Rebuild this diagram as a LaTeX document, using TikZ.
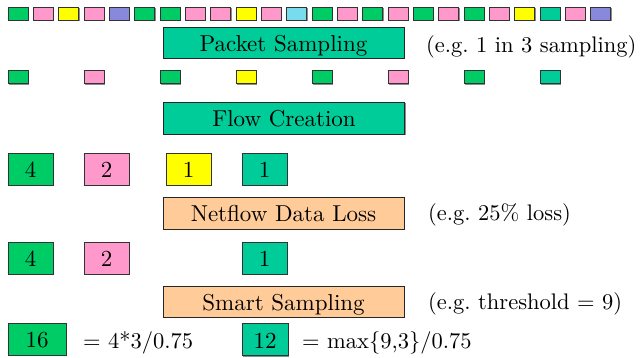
\documentclass[tikz,border=0pt]{standalone}
\usepackage{fontspec}
\setmainfont{lmroman10-regular}[Extension=.otf]
\usetikzlibrary{shadows}
\frenchspacing
\definecolor{grn}{HTML}{00CC66}
\definecolor{pnk}{HTML}{FF99CC}
\definecolor{ylw}{HTML}{FFFF00}
\definecolor{blu}{HTML}{8888DD}
\definecolor{cyn}{HTML}{77DDEE}
\definecolor{tea}{HTML}{00CC99}
\definecolor{pch}{HTML}{FFCC99}
\tikzset{
  shd/.style={drop shadow={shadow xshift=1pt, shadow yshift=-1pt, fill=black!45, opacity=1}},
  pkt/.style={draw=black!80, line width=0.8pt, minimum width=20pt, minimum height=13pt, inner sep=0pt, shd},
  txt/.style={font=\fontsize{23}{28}\selectfont, text height=17pt, text depth=0pt, inner sep=0pt},
  stage/.style={draw=black!85, line width=0.8pt, minimum width=241pt, minimum height=31pt, txt, shd},
  cnt/.style={draw=black!80, line width=0.8pt, minimum width=45pt, minimum height=32pt, txt, shd},
  note/.style={font=\fontsize{22.5}{27}\selectfont, inner sep=0pt, anchor=base west},
}
\begin{document}
\begin{tikzpicture}[x=1pt,y=-1pt]
\useasboundingbox (0,0) rectangle (642,357);
% row 1: all packets
\foreach \c [count=\i from 0] in {grn,pnk,ylw,pnk,blu,grn,grn,pnk,pnk,ylw,pnk,cyn,grn,pnk,grn,pnk,grn,pnk,grn,pnk,ylw,tea,pnk,blu}
  \node[pkt, fill=\c] (p\i) at ({18+25.33*\i},13.5) {};
\node[stage, fill=tea] (ps) at (283.5,42.5) {Packet Sampling};
\node[note] (psn) at (426,52) {(e.g. 1 in 3 sampling)};
% row 2: sampled packets
\foreach \c [count=\k from 0] in {grn,pnk,grn,ylw,grn,pnk,grn,tea}
  \node[pkt, fill=\c] (s\k) at ({18+76*\k},77) {};
\node[stage, fill=tea, minimum height=32pt] (fc) at (284,118) {Flow Creation};
% row 3: flows
\node[cnt, fill=grn] (f1) at (30.5,169) {4};
\node[cnt, fill=pnk] (f2) at (106.5,169) {2};
\node[cnt, fill=ylw] (f3) at (188.5,169) {1};
\node[cnt, fill=tea] (f4) at (264.5,169) {1};
\node[stage, fill=pch, minimum height=32pt] (nl) at (283.5,213) {Netflow Data Loss};
\node[note] (nln) at (428,220) {(e.g. 25\% loss)};
% row 4: surviving flows
\node[cnt, fill=grn] (g1) at (30.5,258) {4};
\node[cnt, fill=pnk] (g2) at (106.5,258) {2};
\node[cnt, fill=tea] (g4) at (264.5,258) {1};
\node[stage, fill=pch] (ss) at (283.5,301.5) {Smart Sampling};
\node[note] (ssn) at (428,309) {(e.g. threshold = 9)};
% row 5: results
\node[cnt, fill=grn, minimum width=58pt] (h1) at (37,339) {16};
\node[note] (h1n) at (83,348) {= 4*3/0.75};
\node[cnt, fill=tea, minimum width=46pt] (h4) at (265,339.5) {12};
\node[note] (h4n) at (302,348) {= max\{9,3\}/0.75};
\end{tikzpicture}
\end{document}
